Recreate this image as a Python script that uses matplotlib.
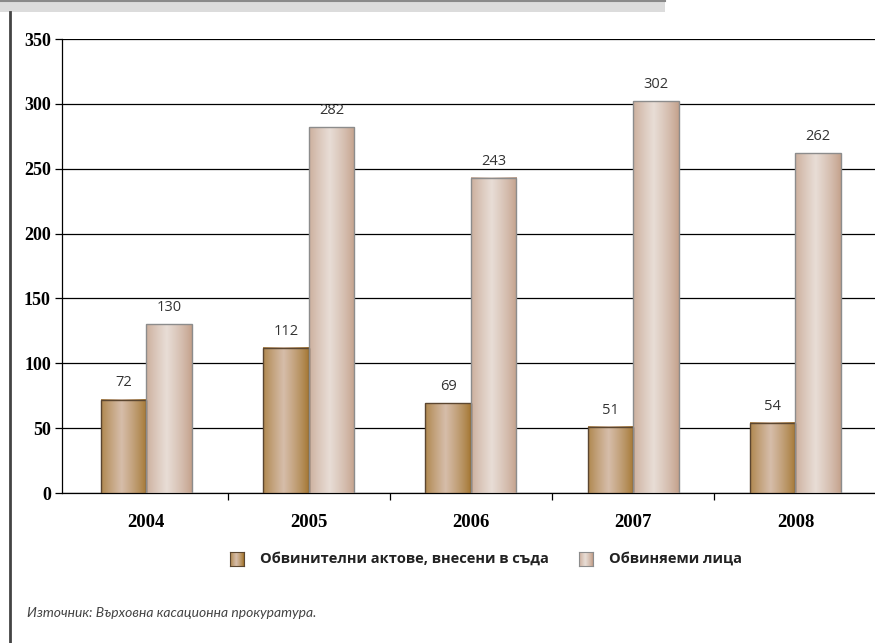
import numpy as np
import matplotlib.pyplot as plt
from matplotlib.colors import to_rgb
from matplotlib.patches import Rectangle
from matplotlib.lines import Line2D

years = ["2004", "2005", "2006", "2007", "2008"]
acts = [72, 112, 69, 51, 54]
accused = [130, 282, 243, 302, 262]
series_names = ["Обвинителни актове, внесени в съда", "Обвиняеми лица"]
source = "Източник: Върховна касационна прокуратура."

# (edge colour, centre colour, outline) for each series
styles = [("#a3752f", "#d6bdaa", "#5b4630"),
          ("#c3a08a", "#e8ddd6", "#8c8c8c")]


def gradient(edge, centre, n=64):
    e = np.array(to_rgb(edge))
    c = np.array(to_rgb(centre))
    x = np.linspace(0, 1, n)
    t = np.clip(1 - np.abs(x - 0.45) / 0.55, 0, 1) ** 0.8
    return (e[None, :] * (1 - t[:, None]) + c[None, :] * t[:, None])[None, :, :]


fig = plt.figure(figsize=(8.75, 6.43), dpi=100)
ax = fig.add_axes([62 / 875, 1 - 493 / 643, 813 / 875, 454 / 643])

x = np.arange(len(years))
w = 0.28
for k, vals in enumerate([acts, accused]):
    edge, centre, outline = styles[k]
    bars = ax.bar(x + (k - 0.5) * w, vals, w, facecolor="none",
                  edgecolor=outline, linewidth=1, zorder=4)
    img = gradient(edge, centre)
    for b, v in zip(bars, vals):
        x0, y0 = b.get_x(), b.get_y()
        ax.imshow(img, extent=[x0, x0 + b.get_width(), y0, y0 + b.get_height()],
                  aspect="auto", zorder=3, interpolation="bilinear")
        ax.annotate(str(v), (x0 + b.get_width() / 2, v), xytext=(0, 12),
                    textcoords="offset points", ha="center", va="center",
                    fontsize=10.5, family="Open Sans", color="#333333")

ax.set_xlim(-0.52, 4.49)
ax.set_ylim(0, 350)
ax.set_yticks(range(0, 351, 50))
ax.yaxis.grid(True, color="black", linewidth=0.9)
ax.set_axisbelow(True)
ax.set_xticks(x)
ax.set_xticklabels(years, fontsize=13.5, fontweight="bold", family="Liberation Serif")
ax.set_xticks(x[:-1] + 0.5, minor=True)
ax.tick_params(axis="x", which="major", length=0, pad=15)
ax.tick_params(axis="x", which="minor", length=5, width=0.9)
ax.tick_params(axis="y", length=5, width=0.9, pad=3)
ax.set_yticklabels([str(v) for v in range(0, 351, 50)], fontsize=13,
                   fontweight="bold", family="Liberation Serif")
for s in ["top", "right"]:
    ax.spines[s].set_visible(False)
for s in ["left", "bottom"]:
    ax.spines[s].set_linewidth(0.9)

# legend swatches and labels
leg = [(230, series_names[0]), (579, series_names[1])]
for k, (px, name) in enumerate(leg):
    edge, centre, outline = styles[k]
    sw = fig.add_axes([px / 875, 1 - 566 / 643, 14 / 875, 14 / 643])
    sw.imshow(gradient(edge, centre, 16), aspect="auto", extent=[0, 1, 0, 1])
    sw.set_xticks([])
    sw.set_yticks([])
    for sp in sw.spines.values():
        sp.set_color(outline)
        sp.set_linewidth(0.8)
    fig.text((px + 30) / 875, 1 - 559 / 643, name, fontsize=10.5,
             fontweight="bold", family="Open Sans", color="#222222", va="center")

fig.text(27 / 875, 1 - 613 / 643, source, fontsize=10, style="italic",
         family="Lato", color="#444444", va="center")

# page decoration: grey header band and left rule
fig.patches.append(Rectangle((0, 1 - 12 / 643), 665 / 875, 12 / 643,
                             transform=fig.transFigure, facecolor="#dcdcdc",
                             edgecolor="none"))
fig.lines.append(Line2D([0, 665 / 875], [1 - 1 / 643, 1 - 1 / 643],
                        transform=fig.transFigure, color="#8a8a8a", linewidth=1.5))
fig.lines.append(Line2D([10 / 875, 10 / 875], [0, 1 - 12 / 643],
                        transform=fig.transFigure, color="#444444", linewidth=2))

fig.savefig("out.png", dpi=100)
